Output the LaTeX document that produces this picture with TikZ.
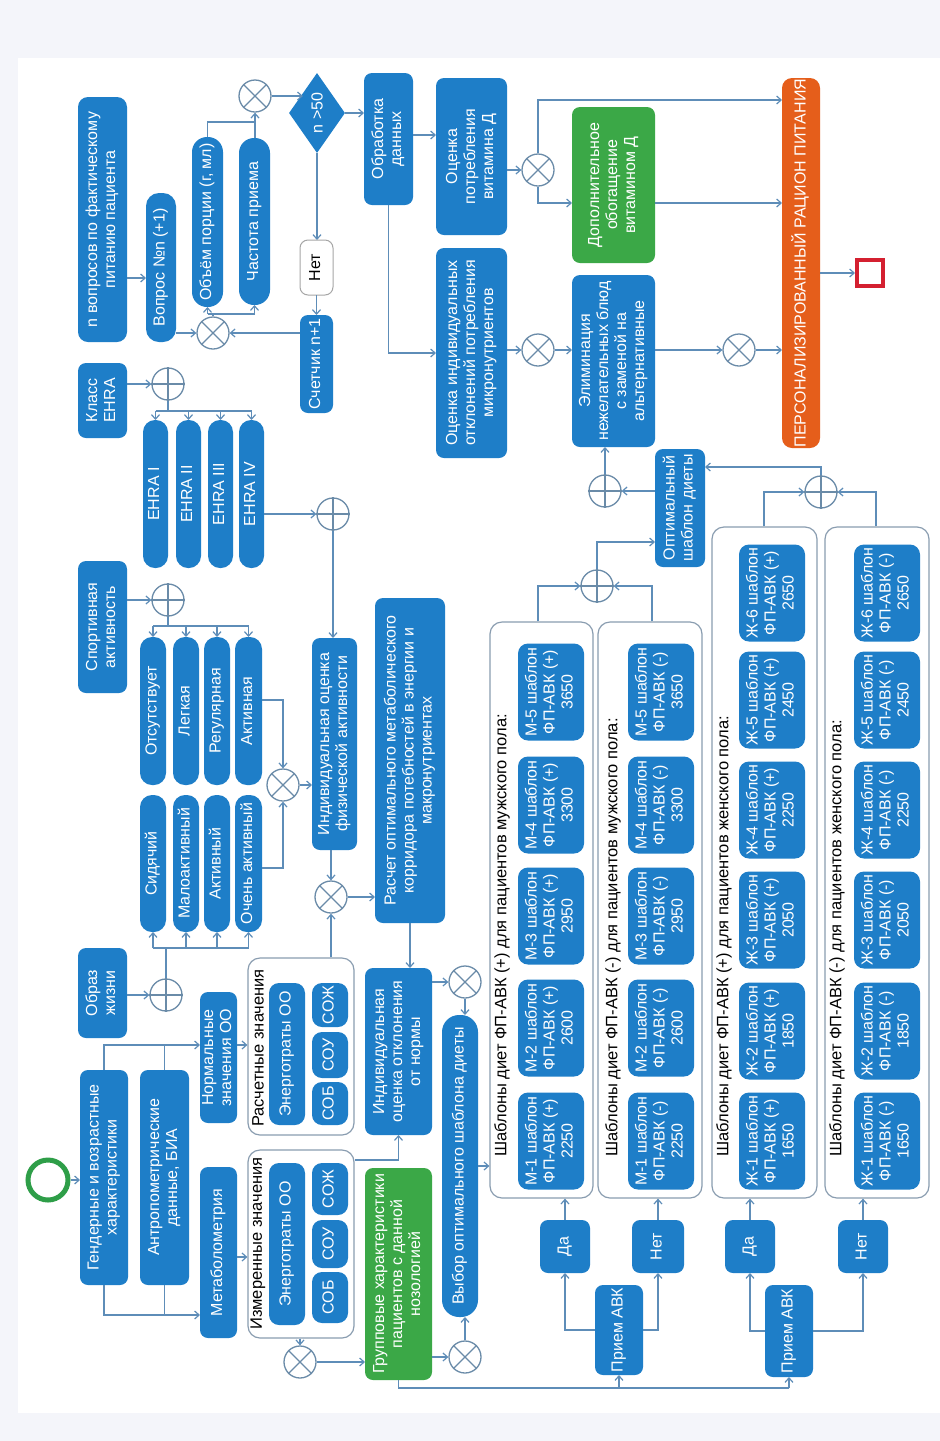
\documentclass[tikz,border=0pt]{standalone}
\usepackage{fontspec}
\setmainfont{Liberation Sans}
\usepackage{graphicx}
\usetikzlibrary{arrows.meta,shapes.geometric,calc}
\definecolor{blu}{HTML}{1E7EC8}
\definecolor{grn}{HTML}{3BA847}
\definecolor{org}{HTML}{E55E1B}
\definecolor{redc}{HTML}{D42030}
\definecolor{startg}{HTML}{2E9E48}
\definecolor{lnc}{HTML}{5E8DB8}
\definecolor{gwc}{HTML}{6A8BA8}
\definecolor{contc}{HTML}{8A9DB0}
\definecolor{bgo}{HTML}{F4F5FA}
\newcommand{\fs}{\fontsize{16}{18}\selectfont}
\newcommand{\fl}{\fontsize{16.5}{19}\selectfont}
\newcommand{\rtx}[1]{\rotatebox{90}{\begin{tabular}{@{}c@{}}#1\end{tabular}}}
\newcommand{\mybox}[7]{%
  \pgfmathsetmacro\bxw{#5-#3}%
  \pgfmathsetmacro\bxh{#6-#4}%
  \pgfmathsetmacro\bxx{(#3+#5)/2}%
  \pgfmathsetmacro\bxy{(#4+#6)/2}%
  \node[#1, minimum width=\bxw pt, minimum height=\bxh pt] (#2) at (\bxx,\bxy) {\rtx{#7}};}
\newcommand{\gx}[2]{\node[gate] (#1) at (#2) {};
  \draw[gwl] (#1.north east) -- (#1.south west) (#1.north west) -- (#1.south east);}
\newcommand{\gp}[2]{\node[gate] (#1) at (#2) {};
  \draw[gwl] (#1.north) -- (#1.south) (#1.west) -- (#1.east);}
\begin{document}
\begin{tikzpicture}[x=1pt,y=-1pt,
  ln/.style={draw=lnc, line width=1.2pt},
  arr/.style={ln, -{Straight Barb[length=4.5pt,width=8pt]}},
  bx/.style={fill=blu, text=white, rounded corners=8pt, inner sep=0pt, outer sep=0pt, font=\fs},
  pill/.style={bx, rounded corners=12pt},
  gbox/.style={bx, fill=grn},
  obox/.style={bx, fill=org, rounded corners=10pt},
  wbox/.style={bx, fill=white, draw=gray!70, line width=1pt, text=black},
  cont/.style={draw=contc, line width=1.2pt, fill=white, rounded corners=12pt, inner sep=0pt},
  tpl/.style={bx, rounded corners=10pt, minimum width=66pt, minimum height=97pt},
  lbl/.style={inner sep=0pt, font=\fl, text=black},
  gate/.style={circle, draw=gwc, line width=1.3pt, fill=white, minimum size=32pt, inner sep=0pt},
  gwl/.style={draw=gwc, line width=1.3pt}]
\useasboundingbox (0,0) rectangle (940,1441);
\fill[bgo] (0,0) rectangle (940,1441);
\fill[white] (18,58) rectangle (940,1413);

% ---------- left column inputs ----------
\mybox{bx,rounded corners=10pt}{nq}{78}{97}{127}{342}{n вопросов по фактическому\\питанию пациента}
\mybox{bx}{ehra}{78}{363}{127}{438}{Класс\\EHRA}
\mybox{bx}{sport}{78}{561}{127}{693}{Спортивная\\активность}
\mybox{bx}{life}{78}{948}{127}{1038}{Образ\\жизни}
\mybox{bx}{gend}{80}{1070}{128}{1285}{Гендерные и возрастные\\характеристики}
\mybox{bx}{anthro}{140}{1070}{189}{1285}{Антропометрические\\данные, БИА}
\mybox{bx}{normal}{200}{992}{237}{1123}{Нормальные\\значения ОО}
\mybox{bx}{metab}{200}{1167}{237}{1338}{Метаболометрия}
\node[circle, draw=startg, line width=5pt, minimum size=40pt, inner sep=0pt] (start) at (48,1180) {};

% ---------- questionnaire loop ----------
\mybox{bx,rounded corners=13pt}{vopr}{146}{193}{176}{342}{Вопрос №n (+1)}
\mybox{pill,rounded corners=15pt}{obem}{192}{137}{223}{307}{Объём порции (г, мл)}
\mybox{pill,rounded corners=15pt}{chast}{239}{138}{270}{305}{Частота приема}
\node[diamond, fill=blu, text=white, font=\fs, inner sep=0pt, minimum width=56pt, minimum height=80pt] (dia) at (317,113) {\rotatebox{90}{n >50}};
\mybox{wbox}{net0}{300}{240}{333}{295}{Нет}
\mybox{bx}{count}{300}{315}{333}{413}{Счетчик n+1}
\mybox{bx}{obr}{364}{73}{413}{205}{Обработка\\данных}
\mybox{bx}{vitd}{436}{78}{507}{235}{Оценка\\потребления\\витамина Д}
\mybox{bx}{micro}{436}{248}{507}{458}{Оценка индивидуальных\\отклонений потребления\\микронутриентов}
\mybox{gbox}{dop}{572}{107}{655}{263}{Дополнительное\\обогащение\\витамином Д}
\mybox{bx}{elim}{572}{275}{655}{447}{Элиминация\\нежелательных блюд\\с заменой на\\альтернативные}
\mybox{obox}{pers}{782}{78}{820}{448}{ПЕРСОНАЛИЗИРОВАННЫЙ РАЦИОН ПИТАНИЯ}
\node[draw=redc, line width=4pt, minimum size=26pt, inner sep=0pt] (endsq) at (870,273) {};

% ---------- activity pills ----------
\mybox{pill}{e1}{143}{420}{168}{568}{EHRA I}
\mybox{pill}{e2}{176}{420}{201}{568}{EHRA II}
\mybox{pill}{e3}{208}{420}{233}{568}{EHRA III}
\mybox{pill}{e4}{239}{420}{264}{568}{EHRA IV}
\mybox{pill}{s1}{140}{637}{166}{785}{Отсутствует}
\mybox{pill}{s2}{173}{637}{199}{785}{Легкая}
\mybox{pill}{s3}{204}{637}{230}{785}{Регулярная}
\mybox{pill}{s4}{235}{637}{262}{785}{Активная}
\mybox{pill}{l1}{140}{795}{166}{932}{Сидячий}
\mybox{pill}{l2}{173}{795}{199}{932}{Малоактивный}
\mybox{pill}{l3}{204}{795}{230}{932}{Активный}
\mybox{pill}{l4}{235}{795}{262}{932}{Очень активный}

\mybox{bx}{indact}{312}{638}{357}{850}{Индивидуальная оценка\\физической активности}
\mybox{bx}{rasch}{375}{598}{445}{923}{Расчет оптимального метаболического\\корридора потебностей в энергии и\\макронутриентах}
\mybox{bx}{otkl}{365}{968}{432}{1135}{Индивидуальная\\оценка отклонения\\от нормы}
\mybox{pill,rounded corners=17pt}{vybor}{442}{1015}{478}{1317}{Выбор оптимального шаблона диеты}
\mybox{gbox}{grp}{365}{1168}{432}{1380}{Групповые характеристики\\пациентов с данной\\нозологией}

% ---------- measured / calculated values ----------
\mybox{cont}{izmbox}{248}{1150}{354}{1338}{}
\mybox{cont}{rascbox}{248}{958}{354}{1135}{}
\node[lbl, anchor=south] (izmlbl) at (258,1330) {\rotatebox{90}{Измеренные значения}};
\node[lbl, anchor=south] (rasclbl) at (258,1127) {\rotatebox{90}{Расчетные значения}};
\mybox{bx,rounded corners=10pt}{izmE}{269}{1163}{305}{1325}{Энерготраты ОО}
\mybox{bx,rounded corners=10pt}{izmZ}{312}{1163}{348}{1215}{СОЖ}
\mybox{bx,rounded corners=10pt}{izmU}{312}{1220}{348}{1268}{СОУ}
\mybox{bx,rounded corners=10pt}{izmB}{312}{1272}{348}{1323}{СОБ}
\mybox{bx,rounded corners=10pt}{rascE}{269}{983}{305}{1125}{Энерготраты ОО}
\mybox{bx,rounded corners=10pt}{rascZ}{312}{983}{348}{1027}{СОЖ}
\mybox{bx,rounded corners=10pt}{rascU}{312}{1032}{348}{1078}{СОУ}
\mybox{bx,rounded corners=10pt}{rascB}{312}{1082}{348}{1125}{СОБ}

% ---------- template groups ----------
\mybox{cont}{mplus}{490}{622}{593}{1198}{}
\mybox{cont}{mminus}{598}{622}{702}{1198}{}
\mybox{cont}{wplus}{712}{527}{817}{1198}{}
\mybox{cont}{wminus}{825}{527}{929}{1198}{}
\node[lbl, anchor=south] (mpl) at (502,1157) {\rotatebox{90}{Шаблоны диет ФП-АВК (+) для пациентов мужского пола:}};
\node[lbl, anchor=south] (mml) at (613,1157) {\rotatebox{90}{Шаблоны диет ФП-АВК (-) для пациентов мужского пола:}};
\node[lbl, anchor=south] (wpl) at (724,1157) {\rotatebox{90}{Шаблоны диет ФП-АВК (+) для пациентов женского пола:}};
\node[lbl, anchor=south] (wml) at (837,1157) {\rotatebox{90}{Шаблоны диет ФП-АВК (-) для пациентов женского пола:}};
\foreach \i/\y/\val in {1/1141/2250,2/1028/2600,3/916/2950,4/805/3300,5/692/3650}{
  \node[tpl] (mp\i) at (551,\y) {\rtx{М-\i{} шаблон\\ФП-АВК (+)\\\val}};
  \node[tpl] (mm\i) at (661,\y) {\rtx{М-\i{} шаблон\\ФП-АВК (-)\\\val}};
}
\foreach \i/\y/\val in {1/1141/1650,2/1031/1850,3/920/2050,4/810/2250,5/700/2450,6/593/2650}{
  \node[tpl] (wp\i) at (772,\y) {\rtx{Ж-\i{} шаблон\\ФП-АВК (+)\\\val}};
  \node[tpl] (wm\i) at (887,\y) {\rtx{Ж-\i{} шаблон\\ФП-АВК (-)\\\val}};
}
\mybox{bx}{opt}{655}{449}{705}{567}{Оптимальный\\шаблон диеты}
\mybox{bx}{pr1}{595}{1285}{643}{1375}{Прием АВК}
\mybox{bx}{pr2}{765}{1285}{813}{1377}{Прием АВК}
\mybox{bx}{da1}{540}{1220}{590}{1273}{Да}
\mybox{bx}{net1}{632}{1220}{684}{1273}{Нет}
\mybox{bx}{da2}{725}{1220}{775}{1273}{Да}
\mybox{bx}{net2}{838}{1220}{888}{1273}{Нет}

% ---------- gateways ----------
\gx{gA}{255,96}
\gx{gB}{213,333}
\gp{gC}{168,384}
\gp{gD}{168,600}
\gp{gE}{166,995}
\gx{gF}{283,785}
\gp{gG}{333,514}
\gx{gH}{331,897}
\gx{gI}{465,982}
\gx{gJ}{465,1357}
\gx{gK}{300,1362}
\gx{gL}{538,170}
\gx{gM}{538,350}
\gx{gN}{739,350}
\gp{gO}{605,491}
\gp{gP}{597,586}
\gp{gQ}{821,492}

% ---------- connectors ----------
\draw[arr] (start.east) -- (start.east -| gend.west);
\draw[arr] (gend.north) |- (normal.west |- 0,1045);
\draw[ln] (anthro.north) -- (anthro.north |- 0,1045);
\draw[arr] (normal.east |- 0,1045) -- (rascbox.west |- 0,1045);
\draw[arr] (gend.south) |- (metab.west |- 0,1315);
\draw[ln] (anthro.south) -- (anthro.south |- 0,1315);
\draw[arr] (metab.east |- 0,1257) -- (izmbox.west |- 0,1257);

\draw[arr] (nq.east |- 0,278) -- (vopr.west |- 0,278);
\draw[arr] (vopr.east |- gB) -- (gB.west);
\draw[arr] (count.west |- gB) -- (gB.east);
\draw[ln] (gB.north) -- (gB.north |- 0,314);
\draw[ln] (obem.south |- 0,314) -- (chast.south |- 0,314);
\draw[arr] (obem.south |- 0,314) -- (obem.south);
\draw[arr] (chast.south |- 0,314) -- (chast.south);
\draw[arr] (gA |- chast.north) -- (gA.south);
\draw[ln] (obem.north) |- (gA.south |- 0,122);
\draw[arr] (gA.east) -- (gA.east -| dia.north west);
\draw[arr] (dia.east) -- (dia.east -| obr.west);
\draw[arr] (dia.south) -- (dia.south |- net0.north);
\draw[arr] (net0.south) -- (net0.south |- count.north);
\draw[arr] (obr.east |- 0,135) -- (vitd.west |- 0,135);
\draw[arr] (obr.south) |- (micro.west);
\draw[arr] (vitd.east |- gL) -- (gL.west);
\draw[arr] (gL.north) |- (pers.west |- 0,100);
\draw[arr] (gL.south) |- (dop.west |- 0,203);
\draw[arr] (dop.east |- 0,203) -- (pers.west |- 0,203);
\draw[arr] (micro.east |- gM) -- (gM.west);
\draw[arr] (gM.east) -- (gM.east -| elim.west);
\draw[arr] (elim.east |- gN) -- (gN.west);
\draw[arr] (gN.east) -- (gN.east -| pers.west);
\draw[arr] (pers.east |- endsq) -- (endsq.west);

\draw[arr] (ehra.east |- gC) -- (gC.west);
\draw[ln] (gC.south) -- (gC.south |- 0,411);
\draw[ln] (e1.north |- 0,411) -- (e4.north |- 0,411);
\foreach \n in {e1,e2,e3,e4} \draw[arr] (\n.north |- 0,411) -- (\n.north);
\draw[arr] (sport.east |- gD) -- (gD.west);
\draw[ln] (gD.south) -- (gD.south |- 0,626);
\draw[ln] (s1.north |- 0,626) -- (s4.north |- 0,626);
\foreach \n in {s1,s2,s3,s4} \draw[arr] (\n.north |- 0,626) -- (\n.north);
\draw[arr] (life.east |- gE) -- (gE.west);
\draw[ln] (gE.north) -- (gE.north |- 0,948);
\draw[ln] (l1.south |- 0,948) -- (l4.south |- 0,948);
\foreach \n in {l1,l2,l3,l4} \draw[arr] (\n.south |- 0,948) -- (\n.south);
\draw[arr] (s4.east |- 0,700) -| (gF.north);
\draw[arr] (l4.east |- 0,868) -| (gF.south);
\draw[arr] (gF.east) -- (gF.east -| indact.west);
\draw[arr] (e4.east |- gG) -- (gG.west);
\draw[arr] (gG.south) -- (gG.south |- indact.north);
\draw[arr] (gH |- indact.south) -- (gH.north);
\draw[arr] (gH |- rascbox.north) -- (gH.south);
\draw[arr] (gH.east) -- (gH.east -| rasch.west);
\draw[arr] (rasch.south) -- (rasch.south |- otkl.north);
\draw[arr] (izmbox.east |- 0,1160) -| (otkl.south);
\draw[arr] (otkl.east |- gI) -- (gI.west);
\draw[arr] (gI.south) -- (gI.south |- vybor.north);
\draw[arr] (grp.east |- gJ) -- (gJ.west);
\draw[arr] (gJ.north) -- (gJ.north |- vybor.south);
\draw[arr] (gK |- izmbox.south) -- (gK.north);
\draw[arr] (gK.east) -- (gK.east -| grp.west);
\draw[ln] (grp.south) |- (pr2.south |- 0,1388);
\draw[arr] (pr1.south |- 0,1388) -- (pr1.south);
\draw[arr] (pr2.south |- 0,1388) -- (pr2.south);
\draw[arr] (vybor.east) -- (vybor.east -| mplus.west);

\draw[arr] (pr1.west) -| (da1.south);
\draw[arr] (pr1.east) -| (net1.south);
\draw[arr] (pr2.west) -| (da2.south);
\draw[arr] (pr2.east) -| (net2.south);
\draw[arr] (da1.north) -- (da1.north |- mplus.south);
\draw[arr] (net1.north) -- (net1.north |- mminus.south);
\draw[arr] (da2.north) -- (da2.north |- wplus.south);
\draw[arr] (net2.north) -- (net2.north |- wminus.south);

\draw[arr] (538,0 |- mplus.north) |- (gP.west);
\draw[arr] (652,0 |- mminus.north) |- (gP.east);
\draw[arr] (gP.north) |- (opt.west |- 0,542);
\draw[arr] (764,0 |- wplus.north) |- (gQ.west);
\draw[arr] (876,0 |- wminus.north) |- (gQ.east);
\draw[arr] (gQ.north) |- (opt.east |- 0,467);
\draw[arr] (opt.west |- gO) -- (gO.east);
\draw[arr] (gO.north) -- (gO.north |- elim.south);
\end{tikzpicture}
\end{document}
